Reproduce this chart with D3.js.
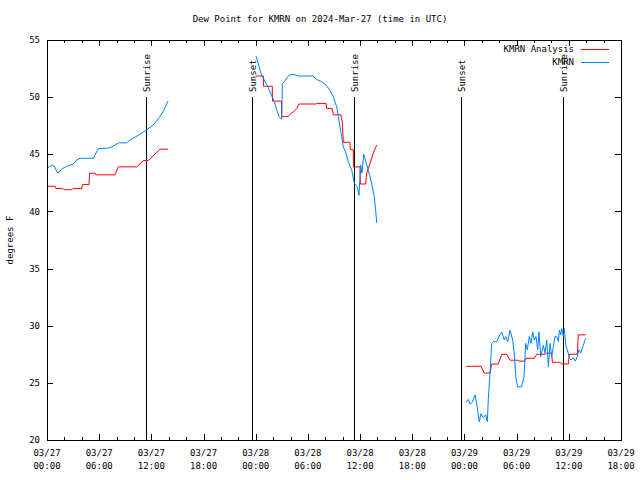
<!DOCTYPE html>
<html><head><meta charset="utf-8">
<script src="https://cdn.jsdelivr.net/npm/d3@7/dist/d3.min.js"></script>
<style>body{margin:0;background:#fff}text{font-family:"DejaVu Sans Mono",monospace;font-size:9px;fill:#000}</style>
</head><body><svg id="c" width="640" height="480"></svg>
<script>
const titleText = "Dew Point for KMRN on 2024-Mar-27 (time in UTC)";
const yLabel = "degrees F";
const seriesNames = ["KMRN Analysis", "KMRN"];
const seriesColors = ["#ff0000", "#0080ff"];
const xStart = "2024-03-27T00:00:00Z", xEnd = "2024-03-29T18:00:00Z";
const yTicks = [20, 25, 30, 35, 40, 45, 50, 55];
const sunHours = [11.38, 23.57, 35.3, 47.6, 59.33];
const sunLabels = ["Sunrise", "Sunset", "Sunrise", "Sunset", "Sunrise"];

// hours since 2024-03-27 00:00 UTC ; null = gap
const anaHours = [0,0.92,1.03,1.84,1.95,2.87,2.99,3.99,4.08,4.83,4.89,5.52,5.63,7.82,8.2,10.31,11.07,11.65,12.99,13.91,
  null,
  24.03,24.87,24.9,25.9,25.93,26.96,26.99,27.75,27.94,28.32,28.71,28.98,30.93,31.0,32.08,32.16,32.8,32.92,33.81,33.88,33.95,34.07,34.84,34.88,35.22,35.24,35.99,36.03,36.64,36.76,37.14,37.52,37.91,
  null,
  48.18,49.9,50.28,50.94,51.13,51.89,52.28,52.86,53.24,54.19,54.27,54.96,55.08,56.03,56.31,57.26,57.46,58.03,58.11,58.99,59.18,59.94,60.06,60.98,61.09,61.94];
const anaValues = [42.2,42.2,42.0,42.0,41.9,41.9,42.0,42.0,42.35,42.35,43.35,43.35,43.2,43.2,43.9,43.9,44.45,44.45,45.45,45.45,
  null,
  51.85,51.85,50.95,50.95,49.65,49.65,48.3,48.3,48.5,48.7,49.0,49.4,49.4,49.45,49.45,49.0,49.0,48.45,48.45,47.95,47.95,46.05,46.05,45.4,45.4,43.9,43.9,42.4,42.4,43.35,44.2,45.1,45.8,
  null,
  26.45,26.45,25.86,25.86,26.65,26.65,27.5,27.5,26.98,26.98,26.9,26.9,27.15,27.15,27.5,27.5,27.6,27.6,26.8,26.8,26.65,26.65,27.5,27.5,29.2,29.2];

const obsHours = [0,0.54,0.8,1.23,1.69,2.27,3.02,3.41,3.79,5.32,5.9,7.13,7.82,8.2,9.16,9.54,10.12,10.8,11.38,11.96,12.42,12.88,13.34,13.91,
  null,
  24.03,24.38,24.6,24.87,25.26,25.72,26.14,26.41,26.68,26.99,27.06,27.29,27.67,28.06,28.52,28.9,30.55,31.0,31.59,32.08,32.54,32.92,33.31,33.5,33.69,33.88,34.07,34.38,34.64,35.04,35.34,35.68,35.87,36.07,36.22,36.42,36.56,36.94,37.33,37.63,37.79,37.91,
  null,
  48.18,48.45,48.64,48.9,49.21,49.41,49.59,49.71,49.9,50.17,50.44,50.63,50.74,50.94,51.13,51.32,51.71,51.97,52.28,52.58,52.74,52.97,53.24,53.55,53.7,53.93,54.12,54.58,54.85,55.04,55.23,55.46,55.65,55.85,56.03,56.23,56.42,56.57,56.77,57.07,57.26,57.46,57.65,57.84,58.03,58.22,58.41,58.61,58.8,58.91,59.07,59.18,59.37,59.49,59.64,59.83,60.06,60.25,60.52,60.75,60.98,61.17,61.37,61.67,61.94];
const obsValues = [43.8,44.0,44.0,43.35,43.7,43.95,44.15,44.5,44.65,44.65,45.5,45.55,45.8,46.0,46.0,46.25,46.5,46.8,47.1,47.4,47.75,48.2,48.7,49.65,
  null,
  53.6,52.67,52.1,51.65,51.1,50.35,49.6,48.9,48.3,48.05,51.2,51.35,51.8,52.0,51.95,51.85,51.85,51.55,51.35,51.05,50.6,50.05,49.15,48.3,47.4,46.55,45.65,45.1,44.35,43.6,42.45,42.15,41.4,44.05,43.35,45.0,44.65,43.6,42.45,41.3,40.1,39.0,
  null,
  23.3,23.55,23.15,23.3,23.95,23.2,22.2,21.6,22.3,21.95,22.2,21.6,23.5,25.85,28.45,28.6,28.6,29.05,29.45,28.75,29.05,28.6,29.6,28.75,27.75,25.4,24.65,24.65,25.55,28.45,27.9,29.05,28.45,29.45,28.75,29.05,27.9,29.45,27.3,28.3,27.6,28.75,26.4,28.45,27.3,28.15,29.05,29.05,28.6,29.6,29.2,29.75,29.05,29.75,28.3,27.9,27.2,27.0,27.2,26.9,27.3,27.9,27.6,28.3,28.9];

const svg = d3.select("#c");
const L = 47, R = 621, T = 40, B = 440;
const t0 = new Date(xStart);
const toDate = h => new Date(t0.getTime() + h * 3600e3);
const x = d3.scaleUtc().domain([new Date(xStart), new Date(xEnd)]).range([L, R]);
const y = d3.scaleLinear().domain([20, 55]).range([B, T]);

// title
svg.append("text").attr("x", 320).attr("y", 22).attr("text-anchor", "middle").text(titleText);
svg.append("text").attr("transform", `translate(13,${(T+B)/2}) rotate(-90)`).attr("text-anchor", "middle").text(yLabel);

// ticks
const major = x.ticks(d3.utcHour.every(6));
const minor = x.ticks(d3.utcHour.every(2));
const g = svg.append("g").attr("stroke", "#000").attr("shape-rendering", "crispEdges");
minor.forEach(d => {
  const px = Math.round(x(d)) + 0.5;
  const len = (d.getUTCHours() % 6 === 0) ? 6 : 3;
  g.append("line").attr("x1", px).attr("x2", px).attr("y1", B).attr("y2", B - len);
  g.append("line").attr("x1", px).attr("x2", px).attr("y1", T).attr("y2", T + len);
});
yTicks.forEach(v => {
  const py = Math.round(y(v)) + 0.5;
  g.append("line").attr("x1", L).attr("x2", L + 6).attr("y1", py).attr("y2", py);
  g.append("line").attr("x1", R).attr("x2", R - 6).attr("y1", py).attr("y2", py);
  svg.append("text").attr("x", L - 7).attr("y", y(v)).attr("dy", "0.35em").attr("text-anchor", "end").text(v);
});
const fD = d3.utcFormat("%m/%d"), fT = d3.utcFormat("%H:%M");
major.forEach(d => {
  const tx = svg.append("text").attr("text-anchor", "middle");
  tx.append("tspan").attr("x", x(d)).attr("y", B + 16).text(fD(d));
  tx.append("tspan").attr("x", x(d)).attr("y", B + 29).text(fT(d));
});

// sun lines
sunHours.forEach((h, i) => {
  const px = Math.round(x(toDate(h))) + 0.5;
  g.append("line").attr("x1", px).attr("x2", px).attr("y1", B).attr("y2", 97);
  svg.append("text").attr("transform", `translate(${px},92) rotate(-90)`).attr("text-anchor", "start").attr("dy", "0.35em").text(sunLabels[i]);
});

// series
const line = d3.line().defined(d => d[0] !== null && d[1] !== null).x(d => x(toDate(d[0]))).y(d => y(d[1]));
const ana = anaHours.map((h, i) => [h, anaValues[i]]);
const obs = obsHours.map((h, i) => [h, obsValues[i]]);
svg.append("path").datum(ana).attr("fill", "none").attr("stroke", seriesColors[0]).attr("stroke-width", 1).attr("d", line);
svg.append("path").datum(obs).attr("fill", "none").attr("stroke", seriesColors[1]).attr("stroke-width", 1).attr("d", line);

// legend
seriesNames.forEach((n, i) => {
  const ly = 49 + i * 13;
  svg.append("text").attr("x", 574).attr("y", ly).attr("dy", "0.35em").attr("text-anchor", "end").text(n);
  svg.append("line").attr("x1", 581).attr("x2", 609).attr("y1", ly + 0.5).attr("y2", ly + 0.5).attr("stroke", seriesColors[i]).attr("shape-rendering", "crispEdges");
});

// frame
svg.append("rect").attr("x", L + 0.5).attr("y", T + 0.5).attr("width", R - L).attr("height", B - T).attr("fill", "none").attr("stroke", "#000").attr("shape-rendering", "crispEdges");
</script></body></html>
